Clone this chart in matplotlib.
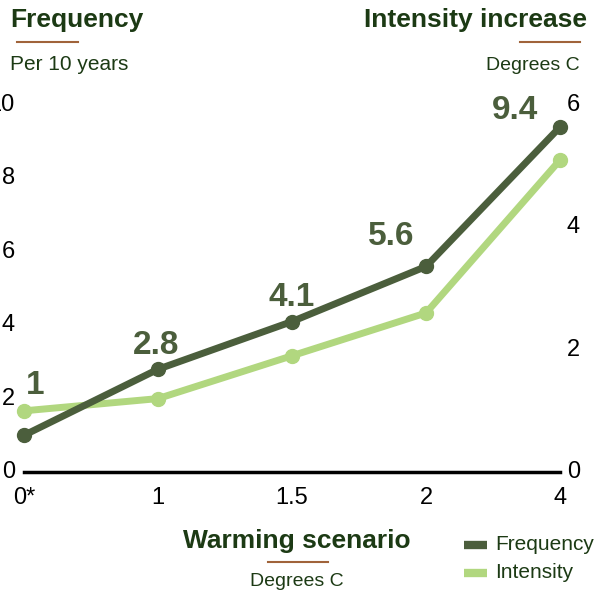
import matplotlib.pyplot as plt
import matplotlib.lines as mlines

plt.rcParams['font.family'] = ['Liberation Sans', 'DejaVu Sans']

# data
scenarios = ['0*', '1', '1.5', '2', '4']
frequency = [1.0, 2.8, 4.1, 5.6, 9.4]
intensity = [1.0, 1.2, 1.9, 2.6, 5.1]
freq_labels = ['1', '2.8', '4.1', '5.6', '9.4']
left_ticks = [0, 2, 4, 6, 8, 10]
right_ticks = [0, 2, 4, 6]
series_names = ['Frequency', 'Intensity']

dark = '#4b5e3c'
light = '#b1d77f'
title_col = '#1c3a14'
rule_col = '#a0633a'

W, H = 598, 596
fig = plt.figure(figsize=[W / 100, H / 100], dpi=100)

def px(x, y):
    return x / W, 1 - y / H

x0, x1, ytop, ybot = 24, 560, 105, 472
ax = fig.add_axes([x0 / W, 1 - ybot / H, (x1 - x0) / W, (ybot - ytop) / H])
ax2 = ax.twinx()

xs = list(range(len(scenarios)))

ax2.plot(xs, intensity, color=light, lw=5, marker='o', ms=10, clip_on=False, zorder=2)
ax.plot(xs, frequency, color=dark, lw=5, marker='o', ms=10, clip_on=False, zorder=3)
ax.set_zorder(ax2.get_zorder() + 1)
ax.patch.set_visible(False)

ax.set_xlim(0, 4)
ax.set_ylim(0, 10)
ax2.set_ylim(0, 6)

ax.set_xticks(xs)
ax.set_xticklabels(scenarios)
ax.set_yticks(left_ticks)
ax2.set_yticks(right_ticks)

for a in (ax, ax2):
    for s in a.spines.values():
        s.set_visible(False)
ax.spines['bottom'].set_visible(True)
ax.spines['bottom'].set_linewidth(2.5)
ax.spines['bottom'].set_color('black')

ax.tick_params(axis='x', length=0, pad=11, labelsize=17)
ax.tick_params(axis='y', length=0, pad=6.5, labelsize=17)
ax2.tick_params(axis='y', length=0, pad=5, labelsize=17)
for lab in ax.get_yticklabels() + ax2.get_yticklabels():
    lab.set_verticalalignment('center')

# data labels for frequency (offsets in pixels)
offsets = [(11, 50), (-2, 24), (0, 24), (-35, 30), (-45, 17)]
for x, v, t, (dx, dy) in zip(xs, frequency, freq_labels, offsets):
    ax.annotate(t, (x, v), xytext=(dx * 0.72, dy * 0.72), textcoords='offset points',
                ha='center', va='center', fontsize=24, fontweight='bold', color=dark)

# titles
fig.text(*px(10, 20), 'Frequency', fontsize=19, fontweight='bold', color=title_col,
         ha='left', va='center')
fig.add_artist(mlines.Line2D([17 / W, 78 / W], [1 - 42 / H] * 2, color=rule_col, lw=1.5))
fig.text(*px(10, 65), 'Per 10 years', fontsize=15, color=title_col, ha='left', va='center')

fig.text(*px(587, 20), 'Intensity increase', fontsize=19, fontweight='bold',
         color=title_col, ha='right', va='center')
fig.add_artist(mlines.Line2D([520 / W, 580 / W], [1 - 42 / H] * 2, color=rule_col, lw=1.5))
fig.text(*px(580, 65), 'Degrees C', fontsize=14, color=title_col, ha='right', va='center')

fig.text(*px(297, 541), 'Warming scenario', fontsize=19, fontweight='bold',
         color=title_col, ha='center', va='center')
fig.add_artist(mlines.Line2D([268 / W, 328 / W], [1 - 562 / H] * 2, color=rule_col, lw=1.5))
fig.text(*px(297, 581), 'Degrees C', fontsize=14, color=title_col, ha='center', va='center')

# legend, drawn by hand
for i, (name, col) in enumerate(zip(series_names, [dark, light])):
    yy = 545 + i * 28
    fig.add_artist(mlines.Line2D([464 / W, 487 / W], [1 - yy / H] * 2, color=col, lw=6,
                                 solid_capstyle='butt'))
    fig.text(*px(495, yy), name, fontsize=15, color=title_col, ha='left', va='center')

fig.savefig('out.png', dpi=100)
